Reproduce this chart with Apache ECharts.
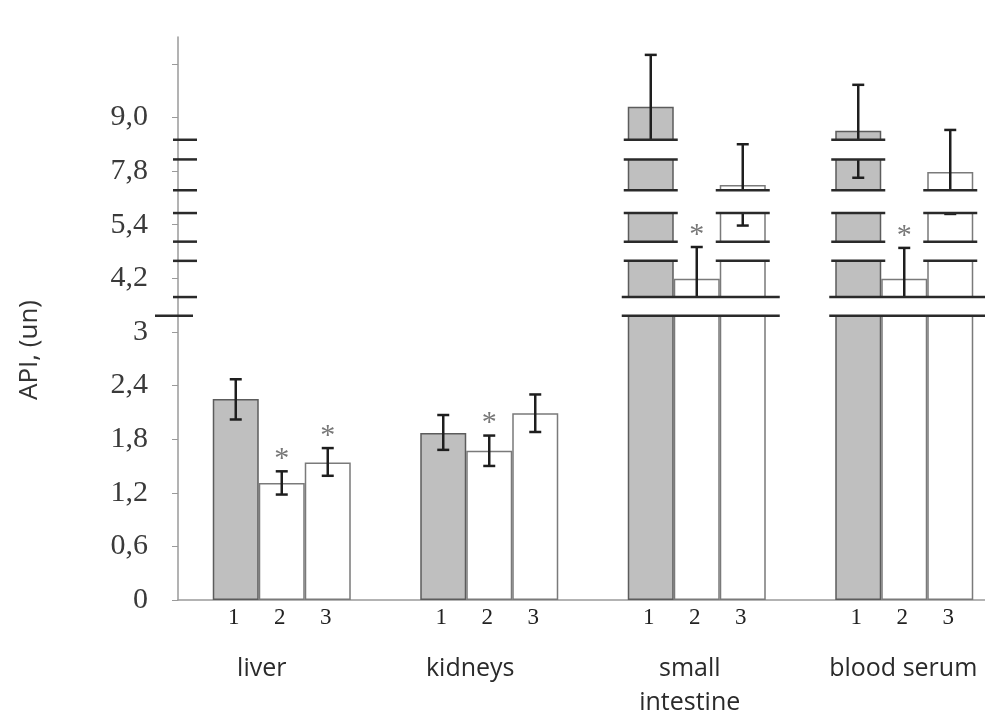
<!DOCTYPE html>
<html>
<head>
    <meta charset="utf-8">
    <script src="https://cdn.jsdelivr.net/npm/echarts@6/dist/echarts.min.js"></script>
</head>
<body style="margin:0">
    <div id="main" style="width:985px;height:718px"></div>

    <script type="text/javascript">
        // organs (x categories) and group numbers under the bars
        var organs = ['liver', 'kidneys', 'small\nintestine', 'blood serum'];
        var groupNames = ['1', '2', '3'];

        // mean API values, one array per group
        var group1 = [2.25, 1.87, 9.24, 8.70];
        var group2 = [1.31, 1.67, 4.19, 4.19];
        var group3 = [1.54, 2.09, 7.18, 7.76];

        // error bar ends (low / high)
        var low1 = [2.02, 1.68, 8.08, 7.50];
        var high1 = [2.47, 2.07, 10.4, 9.73];
        var low2 = [1.18, 1.50, 3.46, 3.50];
        var high2 = [1.44, 1.84, 4.90, 4.88];
        var low3 = [1.39, 1.88, 5.38, 5.88];
        var high3 = [1.70, 2.30, 8.40, 8.72];

        // significance marks (*)
        var star1 = [0, 0, 0, 0];
        var star2 = [1, 1, 1, 1];
        var star3 = [1, 0, 0, 0];

        // broken axis: evenly spaced ticks carrying these labels
        var tickLabels = ['0', '0,6', '1,2', '1,8', '2,4', '3', '4,2', '5,4', '7,8', '9,0'];
        var tickValues = [0, 0.6, 1.2, 1.8, 2.4, 3, 4.2, 5.4, 7.8, 9.0];

        var STEP = 0.6;      // axis units between two ticks
        var BAR_W = 46;
        // break marks, in axis units
        var breaks = [[3.18, 3.39], [3.795, 4.01], [4.33, 4.585], [4.93, 5.15]];

        // value -> position on the evenly spaced axis
        function toAxis(v) {
            var n = tickValues.length;
            for (var i = 1; i < n; i++) {
                if (v <= tickValues[i] || i === n - 1) {
                    var a = tickValues[i - 1], b = tickValues[i];
                    return (i - 1 + (v - a) / (b - a)) * STEP;
                }
            }
        }

        var means = [group1, group2, group3];
        var lows = [low1, low2, low3];
        var highs = [high1, high2, high3];
        var stars = [star1, star2, star3];
        var fills = ['#bfbfbf', '#ffffff', '#ffffff'];
        var borders = ['#5c5c5c', '#7a7a7a', '#7a7a7a'];
        var labelShift = [-20, -19, -7, -1];

        var series = [];
        means.forEach(function (m, k) {
            series.push({
                name: groupNames[k],
                type: 'bar',
                barWidth: BAR_W,
                barGap: '0%',
                z: 2,
                itemStyle: { color: fills[k], borderColor: borders[k], borderWidth: 1.5 },
                data: m.map(toAxis)
            });
        });

        means.forEach(function (m, k) {
            series.push({
                type: 'custom',
                z: 3,
                clip: false,
                encode: { x: 0, y: [1, 2] },
                data: organs.map(function (o, i) {
                    return [i, toAxis(lows[k][i]), toAxis(highs[k][i]), stars[k][i]];
                }),
                renderItem: function (params, api) {
                    var c = api.value(0);
                    var base = api.coord([c, 0]);
                    var x = base[0] + (k - 1) * BAR_W;
                    var yLo = api.coord([c, api.value(1)])[1];
                    var yHi = api.coord([c, api.value(2)])[1];
                    var st = { stroke: '#1e1e1e', lineWidth: 2.5 };
                    var ch = [
                        { type: 'line', shape: { x1: x, y1: yLo, x2: x, y2: yHi }, style: st },
                        { type: 'line', shape: { x1: x - 6, y1: yHi, x2: x + 6, y2: yHi }, style: st },
                        { type: 'line', shape: { x1: x - 6, y1: yLo, x2: x + 6, y2: yLo }, style: st },
                        { type: 'text', style: { text: groupNames[k], x: x - 2, y: base[1] + 18,
                            align: 'center', verticalAlign: 'middle',
                            font: '23px "Liberation Serif"', fill: '#222' } }
                    ];
                    if (api.value(3)) {
                        ch.push({ type: 'text', style: { text: '*', x: x, y: yHi - 12,
                            align: 'center', verticalAlign: 'middle',
                            font: '30px "Liberation Serif"', fill: '#777' } });
                    }
                    return { type: 'group', children: ch };
                }
            });
        });

        // white gaps with double lines where the axis is broken
        var bandItems = [];
        breaks.forEach(function (b, j) {
            bandItems.push([0, j, -2]);
            organs.forEach(function (o, i) {
                if (j === 0) {
                    var top = Math.max.apply(null, means.map(function (m) { return toAxis(m[i]); }));
                    if (top > b[1]) bandItems.push([i, j, -1]);
                } else {
                    means.forEach(function (m, k) {
                        if (toAxis(m[i]) > b[1]) bandItems.push([i, j, k]);
                    });
                }
            });
        });

        series.push({
            type: 'custom',
            z: 4,
            clip: false,
            encode: { x: 0 },
            data: bandItems,
            renderItem: function (params, api) {
                var c = api.value(0), j = api.value(1), k = api.value(2);
                var b = breaks[j];
                var yTop = api.coord([c, b[1]])[1];
                var yBot = api.coord([c, b[0]])[1];
                var center = api.coord([c, 0])[0];
                var ls = { stroke: '#2a2a2a', lineWidth: 2.5 };
                if (k === -2) {
                    var ax = center - api.size([1, 0])[0] / 2;
                    return { type: 'group', children: [
                        { type: 'line', shape: { x1: ax - 5, y1: yTop, x2: ax + 19, y2: yTop }, style: ls },
                        { type: 'line', shape: { x1: j === 0 ? ax - 23 : ax - 5, y1: yBot, x2: j === 0 ? ax + 15 : ax + 19, y2: yBot }, style: ls }
                    ] };
                }
                var x1, x2, l1, l2;
                if (k === -1) {
                    x1 = center - 1.5 * BAR_W; x2 = center + 1.5 * BAR_W;
                    l1 = x1 - 6; l2 = x2 + 14;
                } else {
                    x1 = center + (k - 1.5) * BAR_W; x2 = x1 + BAR_W;
                    l1 = x1 - 4; l2 = x2 + 4;
                }
                return { type: 'group', children: [
                    { type: 'rect', shape: { x: x1 - 2, y: yTop, width: x2 - x1 + 4, height: yBot - yTop },
                      style: { fill: '#ffffff' } },
                    { type: 'line', shape: { x1: l1, y1: yTop, x2: l2, y2: yTop }, style: ls },
                    { type: 'line', shape: { x1: l1, y1: yBot, x2: l2, y2: yBot }, style: ls }
                ] };
            }
        });

        var rich = {};
        labelShift.forEach(function (s, i) {
            rich['s' + i] = { fontFamily: 'Open Sans', fontSize: 25, color: '#2a2a2a', lineHeight: 34,
                padding: s < 0 ? [0, -2 * s, 0, 0] : [0, 0, 0, 2 * s] };
        });

        var myChart = echarts.init(document.getElementById('main'));
        var option = {
            animation: false,
            grid: { left: 178, width: 830, top: 37, bottom: 118, outerBoundsMode: 'none', containLabel: false },
            graphic: [{
                type: 'text', x: 30, y: 350, rotation: Math.PI / 2,
                style: { text: 'API, (un)', align: 'center', verticalAlign: 'middle',
                    font: '26px "Open Sans"', fill: '#333' }
            }],
            xAxis: {
                type: 'category',
                data: organs,
                axisLine: { lineStyle: { color: '#9a9a9a', width: 1.5 } },
                axisTick: { length: 8, lineStyle: { color: '#9a9a9a' } },
                axisLabel: {
                    interval: 0,
                    margin: 52,
                    formatter: function (v, i) {
                        return v.split('\n').map(function (t) { return '{s' + i + '|' + t + '}'; }).join('\n');
                    },
                    rich: rich
                }
            },
            yAxis: {
                type: 'value',
                min: 0,
                max: 6.3,
                splitLine: { show: false },
                axisLine: { show: true, lineStyle: { color: '#9a9a9a', width: 1.5 } },
                axisTick: {
                    show: true, length: 6,
                    customValues: [0, 1, 2, 3, 4, 5, 6, 7, 8, 9, 10].map(function (i) { return i * STEP; }),
                    lineStyle: { color: '#9a9a9a' }
                },
                axisLabel: {
                    customValues: tickLabels.map(function (t, i) { return i * STEP; }),
                    formatter: function (v) { return tickLabels[Math.round(v / STEP)]; },
                    margin: 30,
                    fontFamily: 'Liberation Serif',
                    fontSize: 30,
                    color: '#3a3a3a'
                }
            },
            series: series
        };
        myChart.setOption(option);
    </script>
</body>
</html>
